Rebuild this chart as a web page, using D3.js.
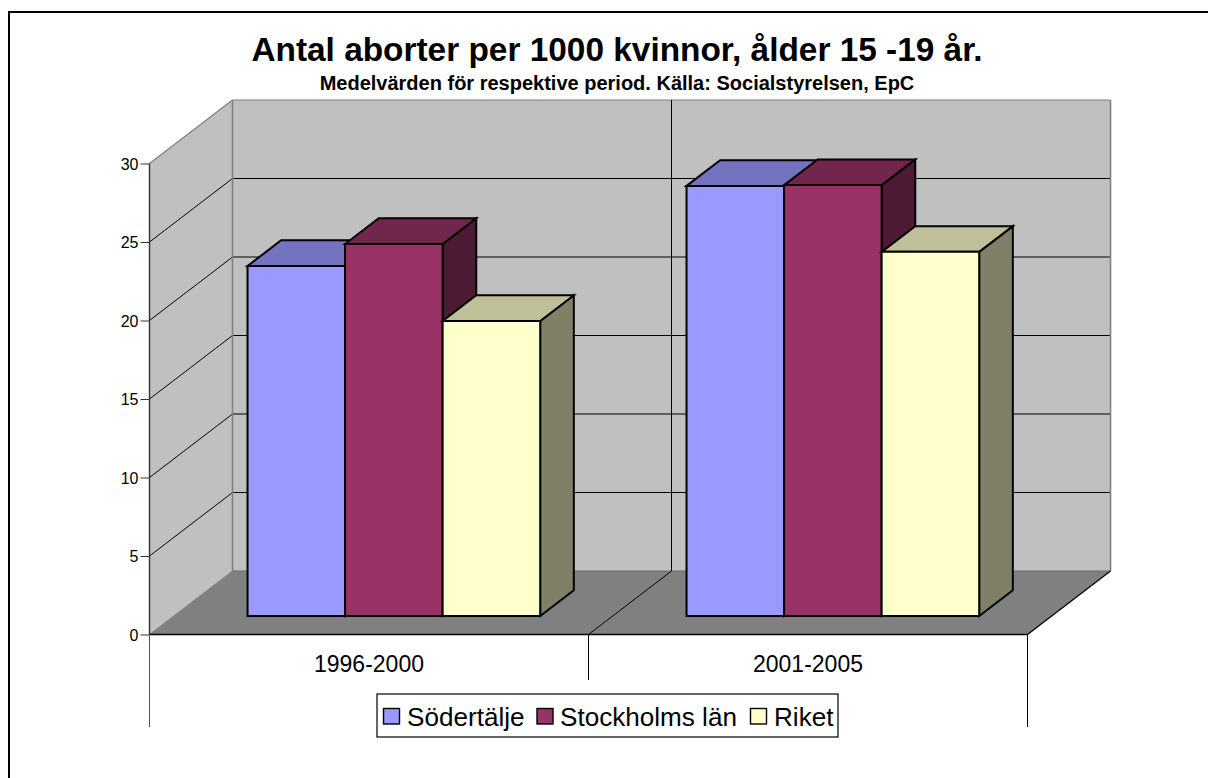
<!DOCTYPE html>
<html><head><meta charset="utf-8">
<script src="https://cdn.jsdelivr.net/npm/d3@7/dist/d3.min.js"></script>
<style>html,body{margin:0;padding:0;background:#fff}svg{display:block}text{font-family:"Liberation Sans",Arial,sans-serif;fill:#000}</style>
</head><body><svg id="c" width="1208" height="778"></svg>
<script>
const titleText = "Antal aborter per 1000 kvinnor, ålder 15 -19 år.";
const subtitleText = "Medelvärden för respektive period. Källa: Socialstyrelsen, EpC";
const categories = ["1996-2000", "2001-2005"];
const seriesNames = ["Södertälje", "Stockholms län", "Riket"];
const sodertalje = [22.3, 27.4];
const stockholm = [23.7, 27.45];
const riket = [18.8, 23.2];
const seriesValues = [sodertalje, stockholm, riket];
const yTicks = [0, 5, 10, 15, 20, 25, 30];
const faceColors = ["#9999ff", "#993366", "#ffffcc"];
const topColors = ["#7373bf", "#73264d", "#bfbf99"];
const sideColors = ["#4d4d80", "#4d1a33", "#808066"];

const svg = d3.select("#c");
const X0 = 149.5, X1 = 1027.5, Y0 = 634.5, Y30 = 163.5;
const DX = 83, DY = 63.5;
const barDepthStart = 0.29, barDepth = 0.405, barNudge = 0.8;

const x = d3.scaleBand().domain(categories).range([X0, X1]);
const y = d3.scaleLinear().domain([0, 30]).range([Y0, Y30]);
const inner = d3.scaleBand().domain(d3.range(seriesNames.length))
  .range([0, x.bandwidth()]).paddingInner(0).paddingOuter(0.75);
const line = d3.line();
const poly = (g, pts, fill, stroke, sw) => g.append("path").attr("d", line(pts) + "Z")
  .attr("fill", fill).attr("stroke", stroke || "none").attr("stroke-width", sw || 0).attr("stroke-linejoin", "miter");
const seg = (g, a, b, col, w) => g.append("line").attr("x1", a[0]).attr("y1", a[1]).attr("x2", b[0]).attr("y2", b[1])
  .attr("stroke", col).attr("stroke-width", w);

// outer frame: only the left and top edges are visible in the picture
svg.append("path").attr("d", "M9,778V12H1208").attr("fill", "none").attr("stroke", "#000").attr("stroke-width", 2);

const g = svg.append("g");
// walls and floor
poly(g, [[X0+DX, y(30)-DY], [X1+DX, y(30)-DY], [X1+DX, y(0)-DY], [X0+DX, y(0)-DY]], "#c0c0c0");
poly(g, [[X0, y(30)], [X0+DX, y(30)-DY], [X0+DX, y(0)-DY], [X0, y(0)]], "#c0c0c0");
poly(g, [[X0, y(0)], [X0+DX, y(0)-DY], [X1+DX, y(0)-DY], [X1, y(0)]], "#808080");

// gridlines
yTicks.filter(t => t > 0 && t < 30).forEach(t => {
  seg(g, [X0, y(t)], [X0+DX, y(t)-DY], "#000", 1);
  seg(g, [X0+DX, y(t)-DY], [X1+DX, y(t)-DY], "#000", 1);
});
// wall outlines
seg(g, [X0, y(30)], [X0+DX, y(30)-DY], "#808080", 1.2);
seg(g, [X0+DX, y(30)-DY], [X1+DX, y(30)-DY], "#808080", 1.2);
seg(g, [X0+DX, y(30)-DY], [X0+DX, y(0)-DY], "#808080", 1.6);
seg(g, [X1+DX, y(30)-DY], [X1+DX, y(0)-DY], "#808080", 1.6);
seg(g, [X0+DX, y(0)-DY], [X1+DX, y(0)-DY], "#6e6e6e", 1);
seg(g, [X0, y(0)], [X0+DX, y(0)-DY], "#808080", 1);
const mid = x(categories[1]);
seg(g, [mid+DX, y(30)-DY], [mid+DX, y(0)-DY], "#000", 1);
seg(g, [mid, y(0)], [mid+DX, y(0)-DY], "#000", 1);
seg(g, [X1, y(0)], [X1+DX, y(0)-DY], "#000", 1.3);

// axes: value axis, category axis
seg(g, [X0, y(30)], [X0, y(0)], "#333", 1.4);
seg(g, [X0, y(0)], [X1, y(0)], "#000", 1.4);
const yAxis = d3.axisLeft(y).tickValues(yTicks).tickSize(9).tickPadding(2).tickFormat(d3.format("d"));
const ya = svg.append("g").attr("transform", `translate(${X0},0)`).call(yAxis);
ya.select(".domain").remove();
ya.selectAll("line").attr("stroke", "#333").attr("stroke-width", 1);
ya.selectAll("text").attr("font-size", 16).attr("dy", "0.36em");

const catTicks = [X0, mid, X1];
catTicks.forEach(v => seg(g, [v, y(0)], [v, v === mid ? 680 : 727], v === X0 ? "#555" : "#000", 1));
categories.forEach(c => svg.append("text").attr("x", x(c) + x.bandwidth()/2).attr("y", 672)
  .attr("text-anchor", "middle").attr("font-size", 23).text(c));

// bars
const ox = DX*barDepthStart + barNudge, oy = DY*barDepthStart, bx = DX*barDepth, by = DY*barDepth;
categories.forEach((c, ci) => {
  seriesNames.forEach((s, si) => {
    const v = seriesValues[si][ci];
    const l = x(c) + inner(si) + ox, r = l + inner.bandwidth();
    const b = y(0) - oy, t = y(v) - oy;
    const bar = svg.append("g");
    poly(bar, [[r, t], [r+bx, t-by], [r+bx, b-by], [r, b]], sideColors[si], "#000", 2);
    poly(bar, [[l, t], [l+bx, t-by], [r+bx, t-by], [r, t]], topColors[si], "#000", 2);
    poly(bar, [[l, t], [r, t], [r, b], [l, b]], faceColors[si], "#000", 2);
  });
});

// titles
svg.append("text").attr("x", 617).attr("y", 61).attr("text-anchor", "middle")
  .attr("font-size", 33.4).attr("font-weight", "bold").text(titleText);
svg.append("text").attr("x", 617).attr("y", 90).attr("text-anchor", "middle")
  .attr("font-size", 20).attr("font-weight", "bold").text(subtitleText);

// legend
svg.append("rect").attr("x", 377).attr("y", 694).attr("width", 461).attr("height", 43)
  .attr("fill", "#fff").attr("stroke", "#000").attr("stroke-width", 1.2);
const legendSwatchX = d3.scaleOrdinal().domain(seriesNames).range([383.5, 537, 750.5]);
const legendTextX = d3.scaleOrdinal().domain(seriesNames).range([407, 560, 774]);
seriesNames.forEach((s, i) => {
  svg.append("rect").attr("x", legendSwatchX(s)).attr("y", 708.5).attr("width", 16).attr("height", 15.5)
    .attr("fill", faceColors[i]).attr("stroke", "#000").attr("stroke-width", 1.4);
  svg.append("text").attr("x", legendTextX(s)).attr("y", 726).attr("font-size", 26.1).text(s);
});
</script></body></html>
